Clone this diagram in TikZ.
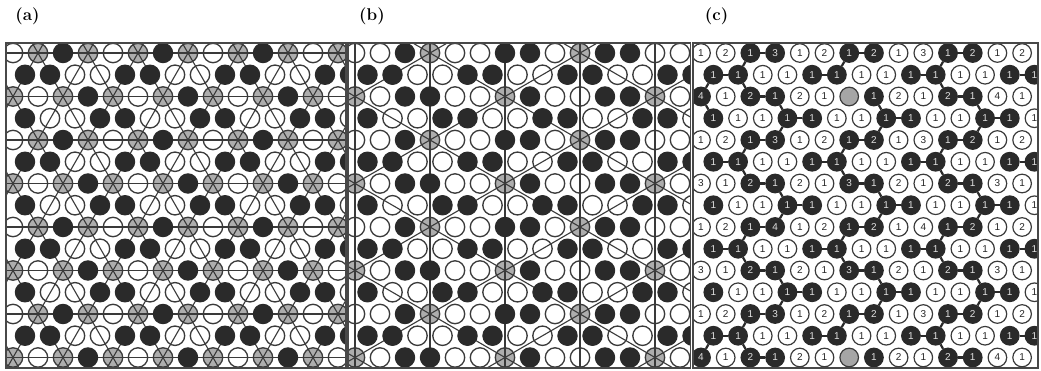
\documentclass[tikz,border=0pt]{standalone}
\usepackage{fontspec}
\newfontfamily\numfont{Liberation Sans}
\definecolor{dk}{HTML}{2A2A2A}
\definecolor{ln}{HTML}{3A3A3A}
\definecolor{xg}{HTML}{ADADAD}
\definecolor{fr}{HTML}{484848}
\newcommand\rowA{0/1,0/2,1/1,1/3,0/1,0/2,1/1,1/2,0/1,0/3,1/1,1/2,0/1,0/2}
\newcommand\rowN{0/1,0/2,1/1,1/4,0/1,0/2,1/1,1/2,0/1,0/4,1/1,1/2,0/1,0/2}
\newcommand\rowB{1/1,1/1,0/1,0/1,1/1,1/1,0/1,0/1,1/1,1/1,0/1,0/1,1/1,1/1}
\newcommand\rowC{0/3,0/1,1/2,1/1,0/2,0/1,1/3,1/1,0/2,0/1,1/2,1/1,0/3,0/1}
\newcommand\rowD{1/1,0/1,0/1,1/1,1/1,0/1,0/1,1/1,1/1,0/1,0/1,1/1,1/1,0/1}
\newcommand\rowE{1/4,0/1,1/2,1/1,0/2,0/1,2/0,1/1,0/2,0/1,1/2,1/1,0/4,0/1}
\newcommand\allrows{1/\rowA,2/\rowB,3/\rowE,4/\rowD,5/\rowA,6/\rowB,7/\rowC,8/\rowD,9/\rowN,10/\rowB,11/\rowC,12/\rowD,13/\rowA,14/\rowB,15/\rowE}
\tikzset{
  opencirc/.style={draw=ln, line width=1.3pt},
  darkcirc/.style={fill=dk, draw=dk, line width=1pt},
  netline/.style={draw=ln, line width=1.1pt},
  panelframe/.style={draw=fr, line width=1.8pt},
  bond/.style={draw=dk, line width=2.2pt},
  cbase/.style={circle, minimum size=18.6pt, inner sep=0pt, line width=1.2pt,
    font=\numfont\fontsize{10}{10}\selectfont},
  cO/.style={cbase, draw=ln, text=black!85},
  cD/.style={cbase, draw=dk, fill=dk, text=white!88!black},
  cG/.style={cbase, draw=ln, fill=gray!70},
  lab/.style={font=\fontsize{17}{20}\selectfont\bfseries, inner sep=0pt}
}
\begin{document}
\begin{tikzpicture}[x=1pt,y=-1pt]
\useasboundingbox (0,0) rectangle (1041,371);
\fill[white] (0,0) rectangle (1041,371);

% labels
\node[lab] (la) at (27.5,16) {(a)};
\node[lab] (lb) at (372,16) {(b)};
\node[lab] (lc) at (716.5,16) {(c)};

% ---------------- panel (a)
\begin{scope}
\clip (6,43) rectangle (346,368);
\foreach \r in {1,...,15}{
  \foreach \k in {0,...,13}{
    \pgfmathtruncatemacro\ty{{1,0,0,1,0,2,1,2,1,1,0,0,2,0,2,1}[4*mod(\r,4)+mod(\k,4)]}
    \ifnum\ty=2
      \fill[xg] ({13+12*(1-mod(\r,2))+25*\k},{53+21.75*(\r-1)}) circle (9.7);
    \fi
  }
}
\foreach \n in {0,...,7}
  \draw[netline] (0,{53+43.5*\n}) -- (350,{53+43.5*\n});
\foreach \j in {-6,...,7}
  \draw[netline] ({38+50*\j-25},{53-43.5}) -- ({38+50*\j+200},{53+348});
\foreach \j in {0,...,11}
  \draw[netline] ({38+50*\j+25},{53-43.5}) -- ({38+50*\j-200},{53+348});
\foreach \r in {1,...,15}{
  \foreach \k in {0,...,13}{
    \pgfmathtruncatemacro\ty{{1,0,0,1,0,2,1,2,1,1,0,0,2,0,2,1}[4*mod(\r,4)+mod(\k,4)]}
    \ifnum\ty=1
      \filldraw[darkcirc] ({13+12*(1-mod(\r,2))+25*\k},{53+21.75*(\r-1)}) circle (9.7);
    \else
      \draw[opencirc] ({13+12*(1-mod(\r,2))+25*\k},{53+21.75*(\r-1)}) circle (9.7);
    \fi
  }
}
\end{scope}

% ---------------- panel (b)
\begin{scope}
\clip (348,43) rectangle (690.5,368);
\foreach \r/\data in \allrows{
  \edef\tmp{\data}
  \foreach \ty/\num [count=\k from 0] in \tmp{
    \pgfmathtruncatemacro\isx{(mod(\r,4)==1 && (\k==3 || \k==9)) || (mod(\r,4)==3 && mod(\k,6)==0)}
    \ifnum\isx=1
      \fill[xg] ({355+12.5*(1-mod(\r,2))+25*\k},{53+21.75*(\r-1)}) circle (9.7);
    \fi
  }
}
\foreach \m in {0,...,4}
  \draw[netline] ({355+75*\m},40) -- ({355+75*\m},370);
\foreach \n in {-2,...,5}
  \draw[netline] (280,{53-87+87*\n}) -- (730,{53+174+87*\n});
\foreach \n in {-1,...,6}
  \draw[netline] (280,{53+87+87*\n}) -- (730,{53-174+87*\n});
\foreach \r/\data in \allrows{
  \edef\tmp{\data}
  \foreach \ty/\num [count=\k from 0] in \tmp{
    \pgfmathtruncatemacro\isx{(mod(\r,4)==1 && (\k==3 || \k==9)) || (mod(\r,4)==3 && mod(\k,6)==0)}
    \ifnum\isx=1
      \draw[opencirc] ({355+12.5*(1-mod(\r,2))+25*\k},{53+21.75*(\r-1)}) circle (9.7);
    \else
      \ifnum\ty=1
        \filldraw[darkcirc] ({355+12.5*(1-mod(\r,2))+25*\k},{53+21.75*(\r-1)}) circle (9.7);
      \else
        \draw[opencirc] ({355+12.5*(1-mod(\r,2))+25*\k},{53+21.75*(\r-1)}) circle (9.7);
      \fi
    \fi
  }
}
\end{scope}

% ---------------- panel (c)
\begin{scope}
\clip (693,43) rectangle (1038,368);
\foreach \r/\data in \allrows{
  \edef\tmp{\data}
  \foreach \ty/\num [count=\k from 0] in \tmp{
    \pgfmathsetmacro\xx{701+12.35*(1-mod(\r,2))+24.7*\k}
    \pgfmathsetmacro\yy{53+21.75*(\r-1)}
    \ifcase\ty
      \node[cO] (c\r-\k) at (\xx,\yy) {\num};
    \or
      \node[cD] (c\r-\k) at (\xx,\yy) {\num};
    \or
      \node[cG] (c\r-\k) at (\xx,\yy) {};
    \fi
  }
}
% horizontal bonds
\foreach \r in {1,5,7,9,11,13}
  \foreach \a/\b in {2/3,6/7,10/11}
    \draw[bond] (c\r-\a) -- (c\r-\b);
\foreach \r in {3,15}
  \foreach \a/\b in {2/3,10/11}
    \draw[bond] (c\r-\a) -- (c\r-\b);
\foreach \r in {2,6,10,14}
  \foreach \a/\b in {0/1,4/5,8/9,12/13}
    \draw[bond] (c\r-\a) -- (c\r-\b);
\foreach \r in {4,8,12}
  \foreach \a/\b in {3/4,7/8,11/12}
    \draw[bond] (c\r-\a) -- (c\r-\b);
% bonds between rows
\foreach \p/\a/\q/\b in {
  1/2/2/1, 1/6/2/5, 1/10/2/9,
  2/0/3/0, 2/1/3/2, 2/9/3/10,
  3/0/4/0, 3/3/4/3, 3/7/4/7, 3/11/4/11,
  4/3/5/3, 4/7/5/7, 4/11/5/11,
  5/2/6/1, 5/6/6/5, 5/10/6/9,
  6/1/7/2, 6/5/7/6, 6/9/7/10,
  7/3/8/3, 7/7/8/7, 7/11/8/11,
  8/3/9/3, 8/7/9/7, 8/11/9/11,
  9/2/10/1, 9/6/10/5, 9/10/10/9,
  10/1/11/2, 10/5/11/6, 10/9/11/10,
  11/3/12/3, 11/7/12/7, 11/11/12/11,
  12/3/13/3, 12/7/13/7, 12/11/13/11,
  13/2/14/1, 13/6/14/5, 13/10/14/9,
  14/0/15/0, 14/1/15/2, 14/9/15/10}
  \draw[bond] (c\p-\a) -- (c\q-\b);
\end{scope}

% frames
\draw[panelframe] (6,43) rectangle (346,368);
\draw[panelframe] (348,43) rectangle (690.5,368);
\draw[panelframe] (693,43) rectangle (1038,368);
\end{tikzpicture}
\end{document}
